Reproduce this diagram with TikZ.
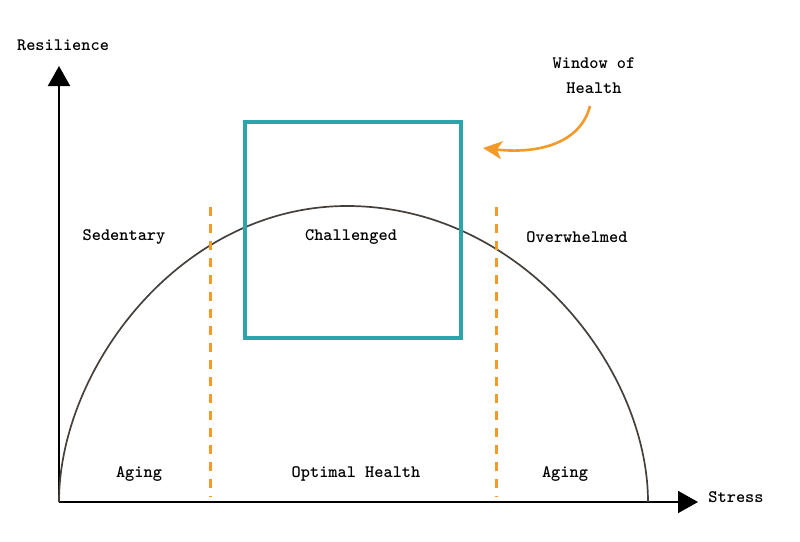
\documentclass[tikz,border=0pt]{standalone}
\usetikzlibrary{arrows.meta}
\definecolor{teal1}{HTML}{2BA5AB}
\definecolor{orng}{HTML}{F39A2A}
\definecolor{crv}{HTML}{46403C}
\tikzset{
  lbl/.style={font=\fontsize{17.5}{20}\selectfont\ttfamily\bfseries, inner sep=0pt},
  axis/.style={line width=2pt, black, -{Triangle[width=22pt,length=20pt]}},
  divider/.style={orng, line width=3pt, dash pattern=on 9pt off 8pt},
  window/.style={draw=teal1, line width=4pt},
}
\begin{document}
\begin{tikzpicture}[x=1pt,y=-1pt]
\useasboundingbox (0,0) rectangle (800,541);
\coordinate (O) at (59,502);
\coordinate (ytip) at (59,66);
\coordinate (xtip) at (698,502);
\coordinate (peak) at (347,206);
\coordinate (cend) at (648,502);
\draw[axis] (O) -- (ytip);
\draw[axis] (O) -- (xtip);
\node[lbl] (res) at (63,45) {Resilience};
\node[lbl] (str) at (736,497) {Stress};
% curve
\draw[crv, line width=1.7pt] (O) .. controls (59,369) and (180,206) .. (peak)
  .. controls (522,206) and (648,369) .. (cend);
% dividers
\coordinate (d1t) at (210,207); \coordinate (d1b) at (210,497);
\coordinate (d2t) at (496,207); \coordinate (d2b) at (496,497);
\draw[divider] (d1t) -- (d1b);
\draw[divider] (d2t) -- (d2b);
% window
\node[window, minimum width=216pt, minimum height=216pt, inner sep=0pt] (win) at (353,230) {};
% labels
\node[lbl] (sed) at (124,237) {Sedentary};
\node[lbl] (cha) at (351,237) {Challenged};
\node[lbl] (ove) at (577,237) {Overwhelmed};
\node[lbl] (ag1) at (139,474) {Aging};
\node[lbl] (opt) at (356,474) {Optimal Health};
\node[lbl] (ag2) at (565,474) {Aging};
\node[lbl, align=center] (woh) at (594,76) {Window of\\[5pt]Health};
\coordinate (astart) at (590,106);
\coordinate (aend) at (483,148);
\draw[orng, line width=2.6pt, -{Stealth[width=18pt,length=19pt,inset=5pt]}] (astart) .. controls (580,145) and (535,154) .. (aend);
\end{tikzpicture}
\end{document}
